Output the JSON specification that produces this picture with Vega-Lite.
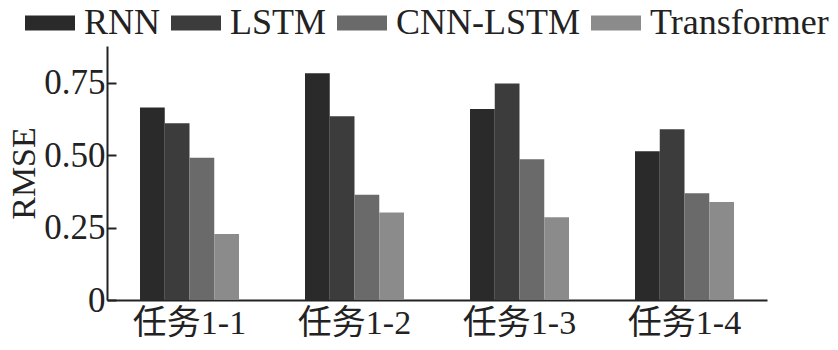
{
  "$schema": "https://vega.github.io/schema/vega-lite/v6.json",
  "width": 660,
  "height": 254,
  "autosize": {"type": "none"},
  "padding": {"left": 107, "top": 46, "right": 71, "bottom": 50},
  "background": "white",
  "config": {
    "view": {"stroke": null},
    "font": "Liberation Serif",
    "axis": {"grid": false, "domainColor": "#222222", "domainWidth": 2, "tickColor": "#222222", "tickWidth": 2, "labelColor": "#222222", "titleColor": "#222222", "labelFont": "Liberation Serif, Noto Sans CJK SC", "titleFont": "Liberation Serif", "titleFontWeight": "normal"}
  },
  "data": {
    "values": [
      {"task": "任务1-1", "model": "RNN", "rmse": 0.664},
      {"task": "任务1-1", "model": "LSTM", "rmse": 0.610},
      {"task": "任务1-1", "model": "CNN-LSTM", "rmse": 0.491},
      {"task": "任务1-1", "model": "Transformer", "rmse": 0.228},
      {"task": "任务1-2", "model": "RNN", "rmse": 0.782},
      {"task": "任务1-2", "model": "LSTM", "rmse": 0.634},
      {"task": "任务1-2", "model": "CNN-LSTM", "rmse": 0.363},
      {"task": "任务1-2", "model": "Transformer", "rmse": 0.302},
      {"task": "任务1-3", "model": "RNN", "rmse": 0.659},
      {"task": "任务1-3", "model": "LSTM", "rmse": 0.747},
      {"task": "任务1-3", "model": "CNN-LSTM", "rmse": 0.485},
      {"task": "任务1-3", "model": "Transformer", "rmse": 0.285},
      {"task": "任务1-4", "model": "RNN", "rmse": 0.513},
      {"task": "任务1-4", "model": "LSTM", "rmse": 0.589},
      {"task": "任务1-4", "model": "CNN-LSTM", "rmse": 0.368},
      {"task": "任务1-4", "model": "Transformer", "rmse": 0.338}
    ]
  },
  "mark": {"type": "bar"},
  "encoding": {
    "x": {
      "field": "task", "type": "nominal",
      "scale": {"paddingInner": 0.4, "paddingOuter": 0.2},
      "axis": {"title": null, "labelAngle": 0, "labelFontSize": 34, "ticks": false, "labelPadding": 6, "labelBaseline": "top"}
    },
    "xOffset": {
      "field": "model", "type": "nominal",
      "sort": ["RNN", "LSTM", "CNN-LSTM", "Transformer"],
      "scale": {"paddingInner": 0, "paddingOuter": 0}
    },
    "y": {
      "field": "rmse", "type": "quantitative",
      "scale": {"domain": [0, 0.876], "nice": false},
      "axis": {"title": "RMSE", "titleFontSize": 34, "titlePadding": 2, "labelFontSize": 35, "values": [0, 0.25, 0.5, 0.75], "tickSize": -9, "labelPadding": 11,
        "labelExpr": "datum.value == 0 ? '0' : format(datum.value, '.2f')"}
    },
    "color": {
      "field": "model", "type": "nominal",
      "sort": ["RNN", "LSTM", "CNN-LSTM", "Transformer"],
      "scale": {"domain": ["RNN", "LSTM", "CNN-LSTM", "Transformer"], "range": ["#2a2a2a", "#3c3c3c", "#6a6a6a", "#8b8b8b"]},
      "legend": {
        "title": null, "orient": "none", "direction": "horizontal",
        "legendX": -82, "legendY": -48,
        "symbolType": "M-1,-0.3H1V0.3H-1Z", "symbolSize": 2500, "symbolStrokeWidth": 0, "symbolOpacity": 1,
        "labelFontSize": 36, "labelFont": "Liberation Serif", "labelColor": "#222222", "labelLimit": 400,
        "labelOffset": 9, "columnPadding": 10
      }
    }
  }
}
